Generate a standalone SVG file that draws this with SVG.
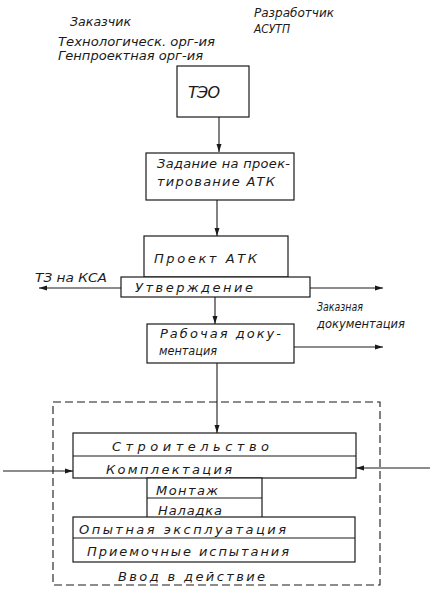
<svg xmlns="http://www.w3.org/2000/svg" width="433" height="593" viewBox="0 0 433 593">
<style>
text{font-family:"DejaVu Sans","Liberation Sans",sans-serif;font-style:italic;font-size:13px;fill:#1a1a1a}
.sm{font-size:12px}
.box{fill:#fff;stroke:#1a1a1a;stroke-width:1.2}
.ln{stroke:#1a1a1a;stroke-width:1.1;fill:none}
.dash{fill:none;stroke:#1a1a1a;stroke-width:1.1;stroke-dasharray:8 4}
</style>
<defs>
<marker id="ah" markerWidth="8" markerHeight="6" refX="8" refY="3" orient="auto" markerUnits="userSpaceOnUse">
<path d="M0,0.5 L8,3 L0,5.5 Z" fill="#1a1a1a"/>
</marker>
</defs>
<rect fill="#fff" width="433" height="593"/>
<g id="labels">
<text class="sm" x="70" y="26" textLength="61" lengthAdjust="spacingAndGlyphs">Заказчик</text>
<text class="sm" x="58" y="46" textLength="157" lengthAdjust="spacingAndGlyphs">Технологическ. орг-ия</text>
<text class="sm" x="58" y="60" textLength="145" lengthAdjust="spacingAndGlyphs">Генпроектная орг-ия</text>
<text class="sm" x="254" y="17" textLength="80" lengthAdjust="spacingAndGlyphs">Разработчик</text>
<text class="sm" x="254" y="33" textLength="36" lengthAdjust="spacingAndGlyphs">АСУТП</text>
<text class="sm" x="35" y="282" textLength="72" lengthAdjust="spacingAndGlyphs">ТЗ на КСА</text>
<text class="sm" x="317" y="311" textLength="46" lengthAdjust="spacingAndGlyphs">Заказная</text>
<text class="sm" x="317" y="328" textLength="88" lengthAdjust="spacingAndGlyphs">документация</text>
</g>
<g id="dashed-frame">
<rect class="dash" x="53" y="402" width="327" height="183"/>
<text x="118" y="581" textLength="147" lengthAdjust="spacing">Ввод в действие</text>
</g>
<g id="connectors">
<line class="ln" x1="219" y1="117" x2="219" y2="152" marker-end="url(#ah)"/>
<line class="ln" x1="217" y1="200" x2="217" y2="236" marker-end="url(#ah)"/>
<line class="ln" x1="121" y1="288" x2="39" y2="288" marker-end="url(#ah)"/>
<line class="ln" x1="310" y1="288" x2="383" y2="288" marker-end="url(#ah)"/>
<line class="ln" x1="215" y1="297" x2="215" y2="324" marker-end="url(#ah)"/>
<line class="ln" x1="294" y1="347" x2="383" y2="347" marker-end="url(#ah)"/>
<line class="ln" x1="217" y1="363" x2="217" y2="433" marker-end="url(#ah)"/>
<line class="ln" x1="3" y1="471" x2="73" y2="471" marker-end="url(#ah)"/>
<line class="ln" x1="430" y1="468" x2="356" y2="468" marker-end="url(#ah)"/>
</g>
<g id="teo">
<rect class="box" x="177" y="66" width="72" height="51"/>
<text x="188" y="98" style="font-size:16px" textLength="32" lengthAdjust="spacing">ТЭО</text>
</g>
<g id="zadanie">
<rect class="box" x="146" y="153" width="148" height="47"/>
<text x="157" y="168" textLength="133" lengthAdjust="spacing">Задание на проек-</text>
<text x="157" y="186" textLength="118" lengthAdjust="spacing">тирование АТК</text>
</g>
<g id="proekt">
<rect class="box" x="144" y="236" width="144" height="41"/>
<text x="154" y="263" textLength="103" lengthAdjust="spacing">Проект АТК</text>
</g>
<g id="utverzhdenie">
<rect class="box" x="121" y="277" width="189" height="20"/>
<text x="135" y="292" textLength="118" lengthAdjust="spacing">Утверждение</text>
</g>
<g id="rabochaya">
<rect class="box" x="147" y="324" width="147" height="39"/>
<text x="160" y="338" textLength="121" lengthAdjust="spacing">Рабочая доку-</text>
<text x="159" y="355" textLength="58" lengthAdjust="spacingAndGlyphs">ментация</text>
</g>
<g id="stroitelstvo">
<rect class="box" x="73" y="433" width="283" height="45"/>
<line class="ln" x1="73" y1="456" x2="356" y2="456"/>
<text x="112" y="451" textLength="157" lengthAdjust="spacing">Строительство</text>
<text x="106" y="474" textLength="126" lengthAdjust="spacing">Комплектация</text>
</g>
<g id="montazh">
<rect class="box" x="147" y="478" width="115" height="40"/>
<line class="ln" x1="147" y1="498" x2="262" y2="498"/>
<text x="156" y="495" textLength="62" lengthAdjust="spacing">Монтаж</text>
<text x="158" y="515" textLength="64" lengthAdjust="spacing">Наладка</text>
</g>
<g id="ispytaniya">
<rect class="box" x="73" y="517" width="282" height="45"/>
<line class="ln" x1="73" y1="538" x2="355" y2="538"/>
<text x="79" y="534" textLength="207" lengthAdjust="spacing">Опытная эксплуатация</text>
<text x="87" y="556" textLength="202" lengthAdjust="spacing">Приемочные испытания</text>
</g>
</svg>
